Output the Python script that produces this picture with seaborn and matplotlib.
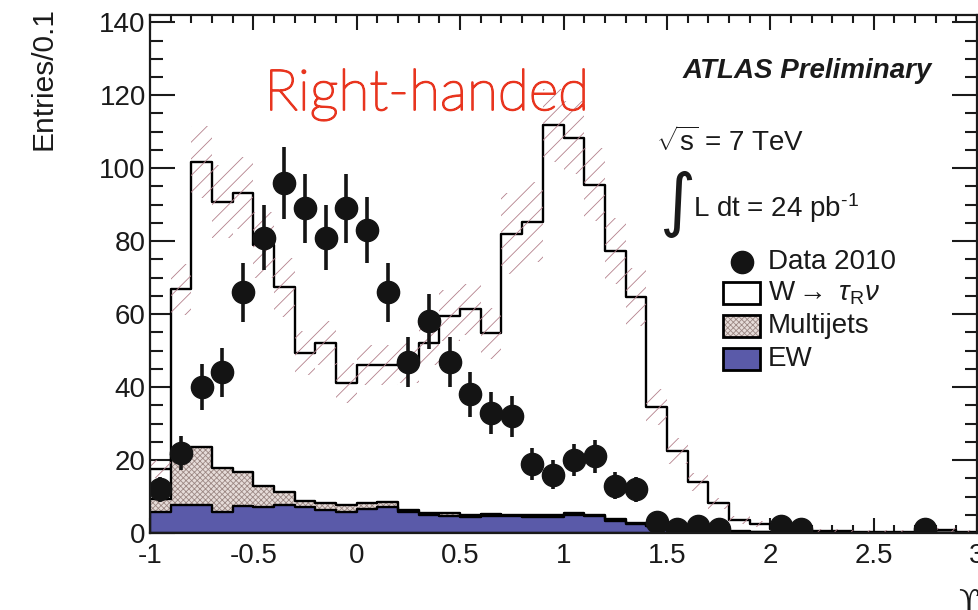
import numpy as np
import pandas as pd
import matplotlib
matplotlib.use("Agg")
import matplotlib.pyplot as plt
import matplotlib.patheffects as pe
import seaborn as sns
from matplotlib.patches import Rectangle
from matplotlib.lines import Line2D
from matplotlib.ticker import MultipleLocator, FuncFormatter

# ---- binning: 40 bins of width 0.1 on [-1, 3] ----
bin_edges = np.round(np.linspace(-1.0, 3.0, 41), 2)
bin_centers = np.round(0.5 * (bin_edges[:-1] + bin_edges[1:]), 3)

# stacked expectation (cumulative heights per bin)
mc_total = [17.5, 66.8, 101.7, 90.8, 93.2, 78.9, 67.3, 49.4, 52.0, 41.2,
            46.0, 46.0, 46.5, 52.1, 59.5, 61.3, 54.7, 82.1, 85.3, 111.8,
            108.4, 95.5, 77.3, 64.7, 34.5, 22.5, 13.9, 8.1, 3.6, 2.5,
            1.2, 0.8, 0.6, 0.5, 0.4, 0.3, 0.3, 0.4, 0.9, 0.2]
mc_multijet_ew = [9.2, 21.6, 23.6, 17.8, 16.8, 13.0, 11.3, 8.9, 8.1, 7.8,
                  8.1, 8.4, 6.2, 5.6, 5.6, 5.0, 5.2, 4.8, 4.8, 4.9,
                  5.6, 5.0, 3.8, 2.8, 2.0, 1.2, 0.9, 0.6, 0.5, 0.3,
                  0.2, 0.2, 0.1, 0.1, 0.1, 0.1, 0.1, 0.1, 0.1, 0.1]
mc_ew = [5.8, 7.7, 7.7, 5.8, 7.5, 7.2, 7.6, 7.2, 6.2, 5.7,
         6.7, 7.0, 5.7, 4.9, 4.6, 4.3, 4.6, 4.6, 4.3, 4.5,
         5.0, 4.6, 3.4, 2.6, 1.8, 1.0, 0.7, 0.5, 0.4, 0.2,
         0.1, 0.1, 0.1, 0.1, 0.1, 0.1, 0.1, 0.1, 0.1, 0.1]
# systematic uncertainty on the total expectation (absolute, per bin)
mc_syst = [2.5, 7.0, 10.0, 10.0, 10.0, 9.0, 8.0, 6.0, 6.0, 5.5,
           5.5, 5.5, 5.5, 6.0, 7.0, 7.0, 7.0, 11.0, 11.0, 10.0,
           10.0, 10.0, 9.0, 8.0, 5.0, 3.5, 2.5, 1.5, 1.0, 0.8,
           0.5, 0.5, 0.5, 0.5, 0.5, 0.5, 0.5, 0.5, 0.5, 0.5]
# observed events per bin
data_counts = [12, 22, 40, 44, 66, 81, 96, 89, 81, 89,
               83, 66, 47, 58, 47, 38, 33, 32, 19, 16,
               20, 21, 13, 12, 3, 1, 2, 1, 0, 0,
               2, 1, 0, 0, 0, 0, 0, 1, 0, 0]

legend_labels = ["Data 2010", r"W$\rightarrow$ $\tau_{\rm R}\nu$", "Multijets", "EW"]

# ---- colours ----
ew_color = "#5a5aa9"
mj_face = "#e6dcd9"
mj_hatch = "#9c8884"
band_color = "#b4808c"
title_red = "#e8351f"
txt_color = "#1a1a1a"

sns.set_theme(style="ticks")
plt.rcParams.update({
    "font.family": ["Liberation Sans", "DejaVu Sans"],
    "mathtext.fontset": "custom",
    "mathtext.rm": "Liberation Sans",
    "mathtext.it": "Liberation Sans:italic",
    "mathtext.bf": "Liberation Sans:bold",
    "axes.unicode_minus": False,
    "hatch.linewidth": 0.6,
    "axes.linewidth": 1.6,
    "axes.edgecolor": "#1a1a1a",
    "text.color": txt_color,
})

W, H = 979, 610
fig = plt.figure(figsize=(W / 100, H / 100), dpi=100)
ax = fig.add_axes([150 / W, (H - 533) / H, 827 / W, (533 - 15) / H])

df = pd.DataFrame({
    "x": bin_centers,
    "total": mc_total,
    "mj_ew": mc_multijet_ew,
    "ew": mc_ew,
})
edges = [float(e) for e in bin_edges]

lw = 1.7
# W -> tau_R nu on top of the stack (white fill)
sns.histplot(data=df, x="x", weights="total", bins=edges, element="step",
             fill=True, facecolor="white", alpha=1, edgecolor="black",
             linewidth=lw, ax=ax)
# multijets (textured)
sns.histplot(data=df, x="x", weights="mj_ew", bins=edges, element="step",
             fill=True, facecolor=mj_face, alpha=1, edgecolor=mj_hatch,
             hatch="xxxxxx", linewidth=0, ax=ax)
sns.histplot(data=df, x="x", weights="mj_ew", bins=edges, element="step",
             fill=False, color="black", linewidth=lw, ax=ax)
# electroweak background
sns.histplot(data=df, x="x", weights="ew", bins=edges, element="step",
             fill=True, facecolor=ew_color, alpha=1, edgecolor="black",
             linewidth=lw, ax=ax)

# hatched uncertainty band around the total expectation
tot = np.array(mc_total)
syst = np.array(mc_syst)
lo = np.append(tot - syst, (tot - syst)[-1])
hi = np.append(tot + syst, (tot + syst)[-1])
ax.fill_between(bin_edges, np.clip(lo, 0, None), hi, step="post",
                facecolor="none", edgecolor=band_color, hatch="//",
                linewidth=0, zorder=3)

# data with Poisson errors (empty bins are not drawn)
counts = np.array(data_counts, dtype=float)
mask = counts > 0
ax.errorbar(bin_centers[mask], counts[mask], yerr=np.sqrt(counts[mask]),
            fmt="o", color="#141414", markersize=16, elinewidth=2.6,
            capsize=0, zorder=5)

ax.set_xlim(-1, 3)
ax.set_ylim(0, 142)
ax.set_xlabel("")
ax.set_ylabel("")
ax.xaxis.set_major_locator(MultipleLocator(0.5))
ax.xaxis.set_minor_locator(MultipleLocator(0.1))
ax.yaxis.set_major_locator(MultipleLocator(20))
ax.yaxis.set_minor_locator(MultipleLocator(5))
ax.xaxis.set_major_formatter(FuncFormatter(lambda v, p: f"{v:g}"))
ax.yaxis.set_major_formatter(FuncFormatter(lambda v, p: f"{v:g}"))
ax.tick_params(axis="both", which="both", direction="in", top=True,
               right=True, colors="#1a1a1a", width=1.5)
ax.tick_params(axis="y", which="major", length=18, labelsize=20, pad=3)
ax.tick_params(axis="y", which="minor", length=9)
ax.tick_params(axis="x", which="major", length=11, labelsize=20, pad=7)
ax.tick_params(axis="x", which="minor", length=5.5)
for s in ax.spines.values():
    s.set_zorder(10)


def fx(px):
    return px / W


def fy(py):
    return 1 - py / H


# axis titles
fig.text(fx(44), fy(7), "Entries/0.1", rotation=90, ha="center", va="top",
         fontsize=21.5)
fig.text(fx(958), fy(603), "\u03d2", ha="left", va="center", fontsize=22,
         family="DejaVu Serif")

# annotations
fig.text(fx(427), fy(110), "Right-handed", ha="center", va="baseline",
         fontsize=41, color=title_red, family="Lato", weight="light",
         path_effects=[pe.withStroke(linewidth=1.3, foreground=title_red)])
fig.text(fx(932), fy(78), "ATLAS Preliminary", ha="right", va="baseline",
         fontsize=20, fontweight="bold", fontstyle="italic")
fig.text(fx(656), fy(151), r"$\sqrt{\mathrm{s}}$ = 7 TeV", ha="left",
         va="baseline", fontsize=20)
fig.text(fx(659), fy(238), "\u222b", ha="left", va="bottom", fontsize=50,
         family="DejaVu Sans")
fig.text(fx(693), fy(217), r"L dt = 24 pb$^{\text{-1}}$", ha="left",
         va="baseline", fontsize=20)

# legend
fig.add_artist(Line2D([fx(742)], [fy(262)], marker="o", markersize=16,
                      color="#141414", linestyle="none"))
box_x0, box_w, box_h = 723, 37, 22
rows_y = [262, 293, 326, 359]
fig.patches.append(Rectangle((fx(box_x0), fy(rows_y[1] + box_h / 2)),
                             box_w / W, box_h / H, transform=fig.transFigure,
                             facecolor="white", edgecolor="black",
                             linewidth=2))
fig.patches.append(Rectangle((fx(box_x0), fy(rows_y[2] + box_h / 2)),
                             box_w / W, box_h / H, transform=fig.transFigure,
                             facecolor=mj_face, edgecolor=mj_hatch,
                             hatch="xxxxxx", linewidth=0))
fig.patches.append(Rectangle((fx(box_x0), fy(rows_y[2] + box_h / 2)),
                             box_w / W, box_h / H, transform=fig.transFigure,
                             facecolor="none", edgecolor="black",
                             linewidth=2))
fig.patches.append(Rectangle((fx(box_x0), fy(rows_y[3] + box_h / 2)),
                             box_w / W, box_h / H, transform=fig.transFigure,
                             facecolor=ew_color, edgecolor="black",
                             linewidth=2))
for lab, ry in zip(legend_labels, rows_y):
    fig.text(fx(768), fy(ry), lab, ha="left", va="center", fontsize=20)

fig.savefig("out.png", dpi=100)
